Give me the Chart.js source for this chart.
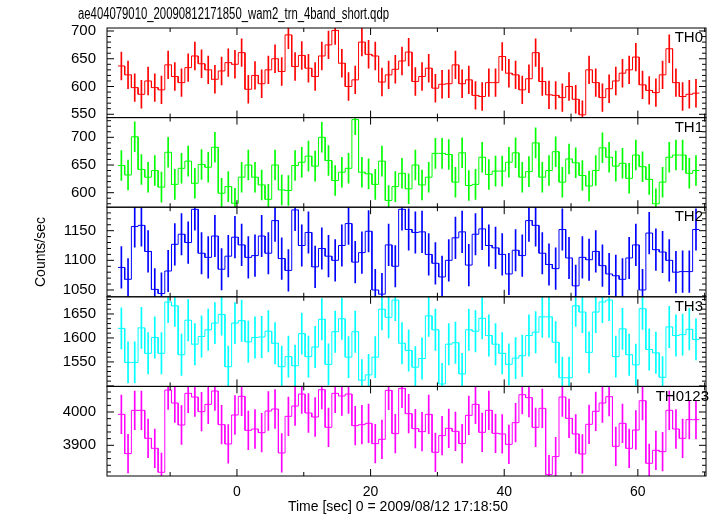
<!DOCTYPE html>
<html>
<head>
<meta charset="utf-8">
<script src="https://cdn.jsdelivr.net/npm/chart.js@4.4.1/dist/chart.umd.min.js"></script>
<style>
  html, body { margin: 0; padding: 0; background: #fff; }
</style>
</head>
<body>
<canvas id="qdp" width="717" height="516"></canvas>
<script>
const titleText = 'ae404079010_20090812171850_wam2_trn_4band_short.qdp'
const xTitle = 'Time [sec] 0 = 2009/08/12 17:18:50'
const yTitle = 'Counts/sec'

// bin centres (sec), 1 s bins
const times = [
  -17.3, -16.3, -15.3, -14.3, -13.3, -12.3, -11.3, -10.3, -9.3, -8.3,
  -7.3, -6.3, -5.3, -4.3, -3.3, -2.3, -1.3, -0.3, 0.7, 1.7,
  2.7, 3.7, 4.7, 5.7, 6.7, 7.7, 8.7, 9.7, 10.7, 11.7,
  12.7, 13.7, 14.7, 15.7, 16.7, 17.7, 18.7, 19.7, 20.7, 21.7,
  22.7, 23.7, 24.7, 25.7, 26.7, 27.7, 28.7, 29.7, 30.7, 31.7,
  32.7, 33.7, 34.7, 35.7, 36.7, 37.7, 38.7, 39.7, 40.7, 41.7,
  42.7, 43.7, 44.7, 45.7, 46.7, 47.7, 48.7, 49.7, 50.7, 51.7,
  52.7, 53.7, 54.7, 55.7, 56.7, 57.7, 58.7, 59.7, 60.7, 61.7,
  62.7, 63.7, 64.7, 65.7, 66.7, 67.7, 68.7
]
const binWidth = 1

const th0 = [
  637, 621, 598, 586, 610, 598, 594, 639, 618, 607,
  634, 655, 641, 630, 613, 628, 643, 640, 661, 595,
  620, 605, 630, 650, 627, 693, 636, 656, 633, 618,
  655, 675, 701, 642, 600, 612, 680, 658, 655, 608,
  621, 631, 646, 662, 609, 618, 633, 597, 604, 605,
  639, 605, 612, 584, 582, 607, 607, 654, 624, 621,
  594, 614, 661, 609, 585, 584, 580, 600, 577, 549,
  630, 607, 580, 596, 610, 624, 630, 653, 603, 593,
  589, 621, 668, 607, 582, 586, 588
]
const th1 = [
  649, 632, 701, 642, 628, 640, 610, 673, 615, 644,
  657, 617, 651, 646, 682, 599, 611, 581, 628, 650,
  628, 614, 588, 650, 605, 604, 649, 655, 666, 648,
  700, 658, 622, 637, 644, 732, 637, 634, 615, 657,
  586, 611, 635, 607, 650, 614, 628, 671, 671, 669,
  619, 672, 613, 615, 664, 633, 639, 639, 655, 672,
  628, 638, 690, 628, 640, 674, 619, 661, 654, 631,
  612, 640, 681, 664, 648, 653, 626, 668, 647, 624,
  580, 619, 664, 668, 668, 635, 640
]
const th2 = [
  1088, 1068, 1157, 1159, 1115, 1051, 1044, 1082, 1127, 1144,
  1130, 1186, 1112, 1105, 1141, 1085, 1107, 1139, 1126, 1105,
  1108, 1141, 1112, 1167, 1103, 1083, 1185, 1125, 1147, 1089,
  1120, 1107, 1100, 1125, 1162, 1097, 1113, 1149, 1050, 1043,
  1126, 1090, 1186, 1152, 1147, 1148, 1110, 1095, 1072, 1100,
  1138, 1148, 1092, 1144, 1153, 1125, 1121, 1110, 1077, 1117,
  1108, 1167, 1159, 1112, 1093, 1086, 1152, 1104, 1057, 1105,
  1101, 1115, 1091, 1077, 1074, 1068, 1104, 1126, 1050, 1146,
  1118, 1114, 1100, 1080, 1081, 1081, 1152
]
const th3 = [
  1620, 1549, 1549, 1621, 1568, 1601, 1568, 1675, 1667, 1565,
  1637, 1587, 1603, 1617, 1631, 1649, 1540, 1631, 1636, 1592,
  1601, 1602, 1614, 1589, 1540, 1561, 1542, 1609, 1561, 1581,
  1639, 1545, 1613, 1640, 1560, 1613, 1512, 1523, 1560, 1660,
  1643, 1679, 1589, 1574, 1539, 1557, 1646, 1617, 1504, 1587,
  1590, 1525, 1617, 1614, 1641, 1605, 1587, 1568, 1545, 1558,
  1563, 1605, 1612, 1644, 1644, 1591, 1517, 1517, 1667, 1654,
  1570, 1654, 1675, 1679, 1561, 1619, 1565, 1544, 1661, 1576,
  1569, 1518, 1623, 1605, 1607, 1618, 1597
]
const th0123 = [
  3993, 3875, 4005, 4005, 3921, 3891, 3819, 4066, 4027, 3961,
  4056, 4045, 4001, 4023, 4063, 3962, 3904, 3991, 4047, 3945,
  3949, 3938, 4003, 4009, 3877, 3987, 4018, 4054, 3997, 3985,
  4067, 3954, 4056, 4048, 4054, 3959, 3962, 3966, 3905, 3918,
  4065, 3935, 4071, 3995, 3950, 3941, 3993, 3879, 3929, 3951,
  3942, 3905, 3990, 4023, 3939, 4005, 3936, 3934, 3903, 3968,
  4052, 4043, 3954, 4011, 3812, 3866, 4045, 3981, 3934, 3874,
  3963, 4002, 4027, 4046, 3897, 3966, 3891, 3946, 4034, 3846,
  3885, 3881, 4005, 3949, 3921, 3977, 3977
]
// 1-sigma error per band (counts/sec)
const errors = [25, 27, 35, 43, 58]

const bandNames = ['TH0', 'TH1', 'TH2', 'TH3', 'TH0123']
const bandValues = [th0, th1, th2, th3, th0123]
const bandColors = ['#ff0000', '#00ff00', '#0000ff', '#00ffff', '#ff00ff']

const xTicks = [0, 20, 40, 60]
const yTickLabels = [
  [550, 600, 650, 700],
  [600, 650, 700],
  [1050, 1100, 1150],
  [1550, 1600, 1650],
  [3900, 4000]
]
const yMinor = [10, 10, 10, 10, 20]
const yMajor = [50, 50, 50, 50, 100]
const yRanges = [[544, 705.4], [573.8, 735.6], [1038.5, 1189.6], [1499, 1685.8], [3807.8, 4076.9]]

const fontFamily = "'Liberation Sans', Arial, Helvetica, sans-serif"

const datasets = []
bandValues.forEach((vals, k) => {
  const yId = 'y' + k
  datasets.push({
    type: 'bar',
    yAxisID: yId,
    data: times.map((t, i) => ({ x: t, y: [vals[i] - errors[k], vals[i] + errors[k]] })),
    backgroundColor: bandColors[k],
    barThickness: 1,
    grouped: false,
    borderWidth: 0,
  })
  const steps = []
  times.forEach((t, i) => {
    steps.push({ x: t - binWidth / 2, y: vals[i] }, { x: t + binWidth / 2, y: vals[i] })
  })
  datasets.push({
    type: 'line',
    yAxisID: yId,
    data: steps,
    borderColor: bandColors[k],
    borderWidth: 1,
    pointRadius: 0,
    tension: 0,
    fill: false,
  })
})

const scales = {
  x: {
    type: 'linear',
    min: -19.45,
    max: 70.2,
    offset: false,
    border: { display: false },
    grid: { display: false, drawTicks: false, offset: false },
    ticks: { color: '#000', padding: 8, autoSkip: false, font: { family: fontFamily, size: 14 }, callback: v => String(v) },
    afterBuildTicks: s => { s.ticks = xTicks.map(v => ({ value: v })) },
    afterFit: s => { s.height = 40 },
  }
}
bandValues.forEach((vals, k) => {
  scales['y' + k] = {
    type: 'linear',
    position: 'left',
    stack: 'panels',
    stackWeight: 1,
    weight: 5 - k,
    min: yRanges[k][0],
    max: yRanges[k][1],
    border: { display: false },
    grid: { display: false, drawTicks: false },
    ticks: { color: '#000', padding: 11, autoSkip: false, font: { family: fontFamily, size: 15 }, callback: v => String(v) },
    afterBuildTicks: s => { s.ticks = yTickLabels[k].map(v => ({ value: v })) },
    afterFit: s => { s.width = 107 },
  }
})

// QDP style frame: boxes per panel with inward ticks, band names, titles
const qdpFrame = {
  id: 'qdpFrame',
  afterDraw(chart) {
    const { ctx, chartArea: a, scales: sc } = chart
    const x = sc.x
    ctx.save()
    ctx.strokeStyle = '#000'
    ctx.lineWidth = 1
    const seg = (x1, y1, x2, y2) => {
      ctx.beginPath(); ctx.moveTo(x1, y1); ctx.lineTo(x2, y2); ctx.stroke()
    }
    bandNames.forEach((name, k) => {
      const s = sc['y' + k]
      const top = s.top, bottom = s.bottom
      ctx.strokeRect(a.left, top, a.right - a.left, bottom - top)
      const start = Math.ceil(s.min / yMinor[k]) * yMinor[k]
      for (let v = start; v <= s.max; v += yMinor[k]) {
        const py = s.getPixelForValue(v)
        const len = v % yMajor[k] === 0 ? 7 : 4
        seg(a.left, py, a.left + len, py)
        seg(a.right, py, a.right - len, py)
      }
      for (let t = -10; t <= 70; t += 10) {
        const px = x.getPixelForValue(t)
        if (px > a.right) continue
        const len = t % 20 === 0 ? 7 : 4
        seg(px, top, px, top + len)
        seg(px, bottom, px, bottom - len)
      }
      ctx.fillStyle = '#000'
      ctx.font = '15px ' + fontFamily
      ctx.textAlign = 'right'
      ctx.textBaseline = 'middle'
      ctx.fillText(name, k === 4 ? 709 : a.right - 3, top + 10)
    })
    ctx.fillStyle = '#000'
    ctx.font = '14px ' + fontFamily
    ctx.textAlign = 'center'
    ctx.textBaseline = 'middle'
    ctx.fillText(xTitle, 398, 507)

    // plot title, condensed like the QDP font
    ctx.save()
    ctx.font = '16px ' + fontFamily
    ctx.textAlign = 'left'
    const w = ctx.measureText(titleText).width
    ctx.translate(78, 15)
    ctx.scale(311 / w, 1)
    ctx.fillText(titleText, 0, 0)
    ctx.restore()

    ctx.translate(41, (a.top + a.bottom) / 2)
    ctx.rotate(-Math.PI / 2)
    ctx.fillText(yTitle, 0, 0)
    ctx.restore()
  }
}

new Chart(document.getElementById('qdp'), {
  type: 'line',
  data: { datasets },
  options: {
    responsive: false,
    animation: false,
    layout: { padding: { left: 0, right: 11, top: 28, bottom: 0 } },
    plugins: {
      legend: { display: false },
      tooltip: { enabled: false },
      title: { display: false },
    },
    scales,
  },
  plugins: [qdpFrame],
})
</script>
</body>
</html>
